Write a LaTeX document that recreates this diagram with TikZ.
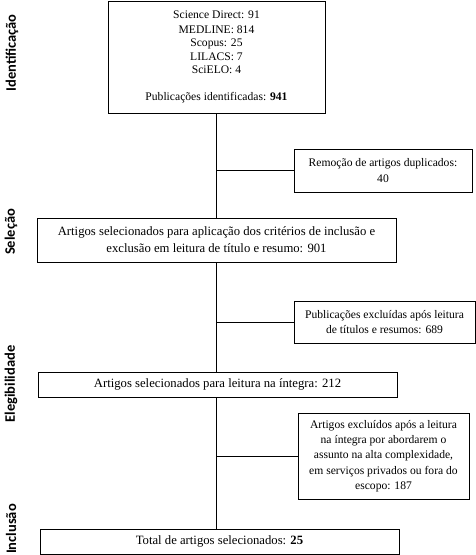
\documentclass[tikz,border=0pt]{standalone}
\usepackage{fontspec}
\setmainfont{Liberation Serif}
\newfontfamily\sidefont{Carlito}
\begin{document}
\begin{tikzpicture}[x=1pt,y=-1pt,
  box/.style={draw,line width=0.8pt,rectangle,align=center,inner sep=0pt,font=\fontsize{11.6}{15.2}\selectfont},
  widebox/.style={box,minimum width=359,font=\fontsize{12.7}{17}\selectfont},
  conn/.style={line width=0.8pt},
  side/.style={rotate=90,font=\sidefont\bfseries\fontsize{14.5}{16}\selectfont}]
\useasboundingbox (0,0) rectangle (476,555);
\node[box,minimum width=217,minimum height=112,font=\fontsize{11.6}{13.3}\selectfont] (b1) at (216.5,57) {Science Direct: 91\\[1.7pt]MEDLINE: 814\\Scopus: 25\\LILACS: 7\\SciELO: 4\\[13.7pt]Publicações identificadas: \textbf{941}};
\node[box,minimum width=178,minimum height=43] (b2) at (383,170.5) {Remoção de artigos duplicados:\\40};
\node[widebox,minimum height=44] (b3) at (216.5,240) {Artigos selecionados para aplicação dos critérios de inclusão e\\exclusão em leitura de título e resumo: 901};
\node[box,minimum width=181,minimum height=42] (b4) at (384.5,322) {Publicações excluídas após leitura\\de títulos e resumos: 689};
\node[widebox,minimum height=25] (b5) at (217.5,384.5) {Artigos selecionados para leitura na íntegra: 212};
\node[box,minimum width=171,minimum height=86] (b6) at (383.5,456) {Artigos excluídos após a leitura\\na íntegra por abordarem o\\assunto na alta complexidade,\\em serviços privados ou fora do\\escopo: 187};
\node[widebox,minimum height=25] (b7) at (219.5,541.5) {Total de artigos selecionados: \textbf{25}};
\draw[conn] (b1.south) -- (b1.south |- b3.north);
\draw[conn] (b1.south |- b3.south) -- (b1.south |- b5.north);
\draw[conn] (b1.south |- b5.south) -- (b1.south |- b7.north);
\draw[conn] (b2.west) -- (b2.west -| b1.south);
\draw[conn] (b4.west) -- (b4.west -| b1.south);
\draw[conn] (b6.west) -- (b6.west -| b1.south);
\node[side] (l1) at (12,53) {Identificação};
\node[side] (l2) at (11,232) {Seleção};
\node[side] (l3) at (11,384) {Elegibilidade};
\node[side] (l4) at (11,529) {Inclusão};
\end{tikzpicture}
\end{document}
